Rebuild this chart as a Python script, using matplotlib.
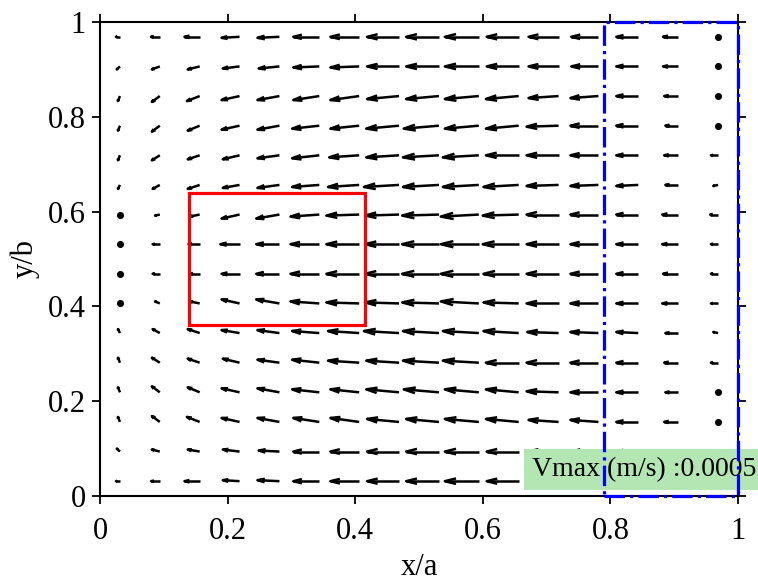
import numpy as np
import matplotlib
matplotlib.use('Agg')
import matplotlib.pyplot as plt
from matplotlib.collections import LineCollection
from matplotlib.patches import Rectangle

plt.rcParams['font.family'] = ['Liberation Serif', 'DejaVu Serif']

# grid points (normalised), rows listed top to bottom
x_pts = [0.03125, 0.09375, 0.15625, 0.21875, 0.28125, 0.34375, 0.40625, 0.46875,
         0.53125, 0.59375, 0.65625, 0.71875, 0.78125, 0.84375, 0.90625, 0.96875]
y_pts = [0.96875, 0.90625, 0.84375, 0.78125, 0.71875, 0.65625, 0.59375, 0.53125,
         0.46875, 0.40625, 0.34375, 0.28125, 0.21875, 0.15625, 0.09375, 0.03125]

# velocity components, units of 1e-5 m/s
u_rows = [
    [-5, -11, -19, -22.5, -27.5, -32.5, -36, -40, -41, -42.5, -40, -37.5, -34, -27.5, -19, 0],
    [-4, -10, -15, -21, -26, -32.5, -36, -40, -41, -42.5, -40, -37.5, -34, -27.5, -19, 0],
    [-2.5, -10, -16, -22.5, -27.5, -32.5, -36, -40, -41, -42.5, -41, -37.5, -35, -27.5, -17.5, 0],
    [-2.5, -10, -15, -22.5, -27.5, -34, -36, -41, -44, -42.5, -41, -40, -35, -27.5, -16, 0],
    [-2.5, -10, -15, -21, -27.5, -34, -37.5, -41, -45, -45, -41, -40, -35, -27.5, -17.5, -9],
    [-2.5, -9, -15, -21, -27.5, -34, -39, -44, -45, -45, -44, -40, -35, -27.5, -16, -6],
    [0, -6, -12.5, -22.5, -29, -36, -41, -42.5, -46, -47.5, -45, -40, -35, -27.5, -20, -10],
    [0, -9, -14, -24, -29, -36, -41, -42.5, -46, -47.5, -45, -40, -35, -27.5, -20, -9],
    [0, -9, -12.5, -22.5, -29, -36, -41, -42.5, -46, -47.5, -44, -40, -35, -27.5, -19, -9],
    [0, -6, -12.5, -22.5, -29, -36, -41, -42.5, -46, -47.5, -44, -40, -35, -27.5, -20, -9],
    [-2.5, -9, -15, -22.5, -27.5, -34, -39, -44, -45, -45, -44, -39, -35, -27.5, -16, -6],
    [-2.5, -10, -15, -21, -27.5, -34, -39, -41, -45, -45, -41, -40, -35, -27.5, -17.5, -9],
    [-2.5, -10, -15, -22.5, -27.5, -34, -36, -41, -44, -42.5, -41, -40, -35, -27.5, -16, 0],
    [-2.5, -10, -16, -22.5, -27.5, -32.5, -36, -40, -41, -42.5, -41, -37.5, -35, -27.5, -17.5, 0],
    [-4, -10, -15, -21, -26, -32.5, -36, -40, -41, -42.5, -40, -37.5, -34, -27.5, -19, 0],
    [-5, -11, -19, -21, -27.5, -32.5, -36, -40, -41, -42.5, -40, -37.5, -34, -27.5, -19, 0],
]
v_rows = [
    [0, 0, 0, -1.7, -1.7, 0, 0, 0, 0, 0, 0, 0, 0, 0, 0, 0],
    [-5, -5, -5, -3.4, -3.4, -1.7, -1.7, 0, 0, 0, 0, 0, 0, 0, 0, 0],
    [-8.4, -10, -8.4, -6.7, -6.7, -6.7, -6.7, -5, -5, -5, -5, -3.4, -3.4, 0, 0, 0],
    [-8.4, -10, -8.4, -6.7, -6.7, -5, -5, -5, -5, -5, -5, -1.7, 0, 0, 0, 0],
    [-8.4, -8.4, -6.7, -6.7, -5, -5, -3.4, -3.4, -3.4, -3.4, 0, 0, 0, 0, 0, 0],
    [-6.7, -6.7, -6.7, -5, -5, -3.4, -3.4, -3.4, -3.4, -3.4, -3.4, -1.7, -1.7, -1.7, 0, -1.7],
    [0, -1.7, -3.4, -6.7, -6.7, -3.4, -1.7, -1.7, -1.7, -3.4, -1.7, 0, 0, 0, 0, 0],
    [0, 0, 0, 0, 0, 0, 0, 0, 0, 0, 0, 0, 0, 0, 0, 0],
    [0, 0, 0, 0, 0, 0, 0, 0, 0, 0, 0, 0, 0, 0, 0, 0],
    [0, 3.4, 3.4, 6.7, 6.7, 3.4, 1.7, 1.7, 1.7, 3.4, 1.7, 0, 0, 0, 0, 0],
    [6.7, 6.7, 6.7, 5, 5, 3.4, 3.4, 3.4, 3.4, 3.4, 3.4, 1.7, 1.7, 1.7, 0, 1.7],
    [8.4, 8.4, 6.7, 6.7, 5, 5, 3.4, 3.4, 3.4, 3.4, 0, 0, 0, 0, 0, 0],
    [8.4, 10, 8.4, 6.7, 6.7, 5, 5, 5, 5, 5, 5, 1.7, 0, 0, 0, 0],
    [8.4, 10, 8.4, 6.7, 6.7, 6.7, 6.7, 5, 5, 5, 5, 3.4, 3.4, 0, 0, 0],
    [5, 3.4, 3.4, 3.4, 1.7, 0, 0, 0, 0, 0, 0, 0, 0, 0, 0, 0],
    [0, 0, 0, 1.7, 1.7, 0, 0, 0, 0, 0, 0, 0, 0, 0, 0, 0],
]
vmax = 0.0005
x_ticks = [0, 0.2, 0.4, 0.6, 0.8, 1]
tick_labels = ['0', '0.2', '0.4', '0.6', '0.8', '1']
red_box = (0.14, 0.36, 0.415, 0.64)
blue_box = (0.79, 0.0, 1.0, 1.0)

X, Y = np.meshgrid(x_pts, y_pts)
U = np.array(u_rows) * 1e-5
V = np.array(v_rows) * 1e-5

# matlab-like quiver: tail at the point, open head scaled with length
s = 0.0627 / vmax
du, dv = U * s, V * s
a, b = 0.33, 0.33
moving = (U != 0) | (V != 0)
segs = []
for x, y, u, v in zip(X[moving], Y[moving], du[moving], dv[moving]):
    tx, ty = x + u, y + v
    segs.append([(x, y), (tx, ty)])
    segs.append([(tx - a * (u + b * v), ty - a * (v - b * u)), (tx, ty),
                 (tx - a * (u - b * v), ty - a * (v + b * u))])

fig = plt.figure(figsize=(7.58, 5.85), dpi=100)
ax = fig.add_axes([100 / 758, 1 - 496 / 585, 638 / 758, 474 / 585])
ax.add_collection(LineCollection(segs, colors='k', linewidths=1.8, zorder=2))
ax.scatter(X[~moving], Y[~moving], s=26, c='k', lw=0, zorder=2)

ax.add_patch(Rectangle((red_box[0], red_box[1]), red_box[2] - red_box[0], red_box[3] - red_box[1],
                       fill=False, ec='#ff0000', lw=2.3, zorder=3))
ax.text(0.677, 0.056, f'Vmax (m/s) :{vmax}', fontsize=20, va='center', ha='left', zorder=4,
        bbox=dict(boxstyle='square,pad=0.3', fc='#b3e6b3', ec='none'), clip_on=False)
ax.add_patch(Rectangle((blue_box[0], blue_box[1]), blue_box[2] - blue_box[0], blue_box[3] - blue_box[1],
                       fill=False, ec='#0000ff', lw=2.3, ls='-.', zorder=5, clip_on=False))

ax.set_xlim(0, 1)
ax.set_ylim(0, 1)
ax.set_xticks(x_ticks)
ax.set_xticklabels(tick_labels)
ax.set_yticks(x_ticks)
ax.set_yticklabels(tick_labels)
ax.tick_params(direction='out', top=True, right=True, length=6, width=1.3,
               labelsize=22, colors='k')
ax.tick_params(axis='x', pad=9)
ax.tick_params(axis='y', pad=4)
for sp in ax.spines.values():
    sp.set_linewidth(1.5)
ax.set_xlabel('x/a', fontsize=22, labelpad=5)
ax.set_ylabel('y/b', fontsize=22, labelpad=6)

fig.savefig('out.png', dpi=100)
